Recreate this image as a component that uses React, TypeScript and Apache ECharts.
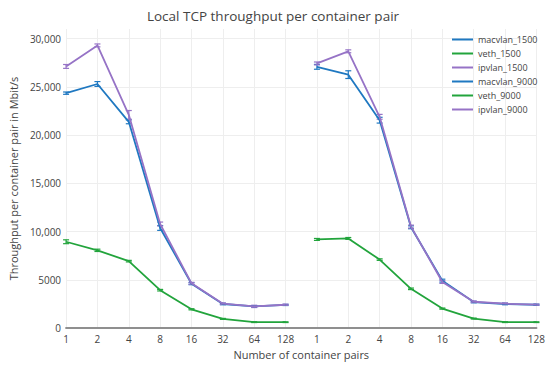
import React, { useEffect, useRef } from "react";
import * as echarts from "echarts";

const categories = ["1", "2", "4", "8", "16", "32", "64", "128"];
const xLabels = [...categories, ...categories];

const macvlan1500 = [24350, 25300, 21380, 10380, 4600, 2500, 2250, 2400];
const veth1500 = [8950, 8060, 6940, 3930, 1950, 955, 615, 615];
const ipvlan1500 = [27120, 29300, 22100, 10790, 4640, 2530, 2250, 2420];
const macvlan9000 = [27080, 26270, 21550, 10450, 4920, 2700, 2500, 2420];
const veth9000 = [9190, 9290, 7100, 4070, 2020, 990, 615, 615];
const ipvlan9000 = [27430, 28690, 21900, 10520, 4780, 2730, 2530, 2430];

const macvlan1500Err = [120, 250, 200, 250, 100, 80, 80, 60];
const veth1500Err = [200, 120, 80, 80, 60, 50, 40, 40];
const ipvlan1500Err = [200, 150, 450, 200, 100, 80, 120, 60];
const macvlan9000Err = [250, 400, 300, 150, 150, 80, 80, 60];
const veth9000Err = [100, 100, 80, 80, 60, 50, 40, 40];
const ipvlan9000Err = [150, 150, 250, 150, 150, 80, 80, 60];

const seriesNames = ["macvlan_1500", "veth_1500", "ipvlan_1500", "macvlan_9000", "veth_9000", "ipvlan_9000"];

const BLUE = "#1f78c1";
const GREEN = "#22a43c";
const PURPLE = "#9673c6";

export default function App() {
  const ref = useRef<HTMLDivElement>(null);
  useEffect(() => {
    if (!ref.current) return;
    const chart = echarts.init(ref.current, undefined, { renderer: "svg" });
    const none = categories.map(() => "-");
    const groups = [
      { name: seriesNames[0], vals: macvlan1500, err: macvlan1500Err, color: BLUE, offset: 0 },
      { name: seriesNames[1], vals: veth1500, err: veth1500Err, color: GREEN, offset: 0 },
      { name: seriesNames[2], vals: ipvlan1500, err: ipvlan1500Err, color: PURPLE, offset: 0 },
      { name: seriesNames[3], vals: macvlan9000, err: macvlan9000Err, color: BLUE, offset: 8 },
      { name: seriesNames[4], vals: veth9000, err: veth9000Err, color: GREEN, offset: 8 },
      { name: seriesNames[5], vals: ipvlan9000, err: ipvlan9000Err, color: PURPLE, offset: 8 },
    ];
    const series: any[] = [];
    groups.forEach((g) => {
      const data = g.offset === 0 ? [...g.vals, ...none] : [...none, ...g.vals];
      series.push({
        name: g.name,
        type: "line",
        data,
        showSymbol: false,
        symbol: "none",
        lineStyle: { color: g.color, width: 1.8 },
        itemStyle: { color: g.color },
        connectNulls: false,
      });
      series.push({
        name: "err_" + g.name,
        type: "custom",
        data: g.vals.map((v, i) => [i + g.offset, v, g.err[i]]),
        encode: { x: 0, y: 1 },
        renderItem: (params: any, api: any) => {
          const x = api.value(0);
          const y = api.value(1);
          const e = api.value(2);
          const top = api.coord([x, y + e]);
          const bot = api.coord([x, y - e]);
          const hw = 3;
          const st = { stroke: g.color, lineWidth: 1.2 };
          return {
            type: "group",
            children: [
              { type: "line", shape: { x1: top[0], y1: top[1], x2: bot[0], y2: bot[1] }, style: st },
              { type: "line", shape: { x1: top[0] - hw, y1: top[1], x2: top[0] + hw, y2: top[1] }, style: st },
              { type: "line", shape: { x1: bot[0] - hw, y1: bot[1], x2: bot[0] + hw, y2: bot[1] }, style: st },
            ],
          };
        },
        z: 3,
      });
    });

    chart.setOption({
      animation: false,
      backgroundColor: "#ffffff",
      textStyle: { fontFamily: "Open Sans" },
      title: {
        text: "Local TCP throughput per container pair",
        left: 268,
        textAlign: "center",
        top: 4,
        textStyle: { fontFamily: "Open Sans", fontSize: 13.5, fontWeight: "normal", color: "#444" },
      },
      legend: {
        data: seriesNames,
        orient: "vertical",
        left: 447,
        top: 30,
        icon: "rect",
        itemWidth: 21,
        itemHeight: 2,
        itemGap: 5,
        textStyle: { fontFamily: "Open Sans", fontSize: 9, color: "#444" },
      },
      grid: { left: 58, right: 10, top: 29, bottom: 33, containLabel: false },
      xAxis: {
        type: "category",
        data: xLabels,
        boundaryGap: false,
        name: "Number of container pairs",
        nameLocation: "middle",
        nameGap: 19,
        nameTextStyle: { fontFamily: "Open Sans", fontSize: 11, color: "#444" },
        axisLine: { show: true, lineStyle: { color: "#8f8f8f", width: 2 } },
        axisTick: { show: false },
        axisLabel: { interval: 0, margin: 6, fontFamily: "Open Sans", fontSize: 10, color: "#444" },
        splitLine: { show: true, interval: 0, lineStyle: { color: "#eeeeee", width: 1 } },
      },
      yAxis: {
        type: "value",
        min: 0,
        max: 31000,
        interval: 5000,
        name: "Throughput per container pair in Mbit/s",
        nameLocation: "middle",
        nameGap: 39,
        nameTextStyle: { fontFamily: "Open Sans", fontSize: 11, color: "#444" },
        axisLine: { show: false },
        axisTick: { show: false },
        axisLabel: {
          showMaxLabel: false,
          margin: 5,
          fontFamily: "Open Sans",
          fontSize: 10,
          color: "#444",
          formatter: (v: number) => (v >= 10000 ? v.toLocaleString("en-US") : String(v)),
        },
        splitLine: { show: true, showMaxLine: false, lineStyle: { color: "#eeeeee", width: 1 } },
      },
      series,
    });
    return () => chart.dispose();
  }, []);
  return <div ref={ref} style={{ width: 548, height: 365, position: "absolute", left: 0, top: 0 }} />;
}
